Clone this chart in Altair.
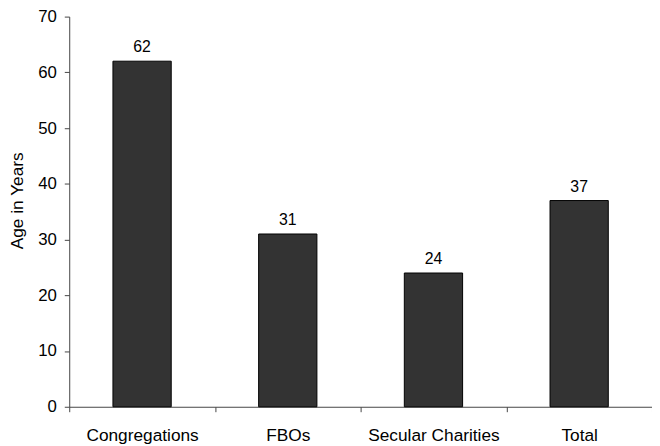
import altair as alt
import pandas as pd

categories = ["Congregations", "FBOs", "Secular Charities", "Total"]
ages = [62, 31, 24, 37]
y_ticks = [0, 10, 20, 30, 40, 50, 60, 70]

df = pd.DataFrame({"cat": categories, "age": ages})
FONT = "Liberation Sans, Arial, sans-serif"

x = alt.X(
    "cat:N",
    sort=categories,
    scale=alt.Scale(paddingInner=0, paddingOuter=0),
    axis=alt.Axis(
        title=None,
        labelAngle=0,
        labelFontSize=17.5,
        labelColor="#000",
        labelFont=FONT,
        labelBaseline="alphabetic",
        labelPadding=29,
        tickBand="extent",
        tickSize=5,
        tickColor="#444",
        domainColor="#444",
    ),
)
y = alt.Y(
    "age:Q",
    scale=alt.Scale(domain=[0, 70], nice=False),
    axis=alt.Axis(
        title="Age in Years",
        titleFont=FONT,
        titleFontSize=17.5,
        titleFontWeight="normal",
        titleColor="#000",
        titleBaseline="alphabetic",
        titleX=-47,
        titleY=186,
        values=y_ticks,
        grid=False,
        labelFontSize=17,
        labelFont=FONT,
        labelColor="#000",
        labelPadding=8,
        tickSize=5,
        tickColor="#444",
        domainColor="#444",
    ),
)

bars = alt.Chart(df).mark_bar(
    width=alt.RelativeBandSize(0.4), color="#333333", stroke="#000", strokeWidth=1
).encode(x=x, y=y)

labels = alt.Chart(df).mark_text(
    dy=-9, baseline="alphabetic", fontSize=16, font=FONT, color="#000"
).encode(x=x, y=y, text="age:Q")

chart = (
    (bars + labels)
    .properties(
        width=590,
        height=395,
        autosize=alt.AutoSizeParams(type="none"),
        padding={"left": 62, "top": 6, "right": 0, "bottom": 37},
    )
    .configure_view(stroke=None)
)

chart.save("out.html", embed_options={"renderer": "svg", "actions": False})
